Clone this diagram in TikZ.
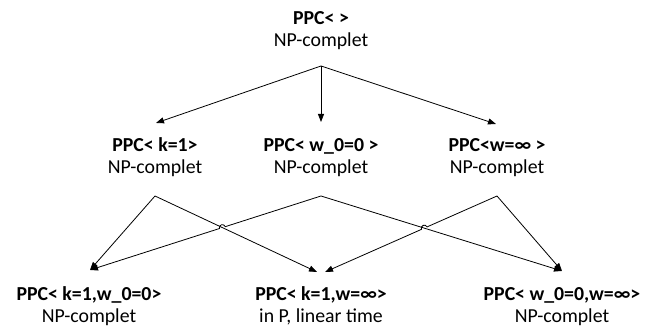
\documentclass[tikz,border=0pt]{standalone}
\usepackage{fontspec}
\setmainfont{Carlito}
\usetikzlibrary{arrows.meta,calc}
\tikzstyle{problem} = [align=center, inner sep=0pt, anchor=base, font=\fontsize{19.8}{22}\selectfont]
\tikzstyle{arrow} = [line width=0.8pt,-{Triangle[length=8pt,width=6pt]}]

\begin{document}
\begin{tikzpicture}[x=1pt,y=1pt]

	\useasboundingbox (0,0) rectangle (656,331);

	\node (ppc)[problem] at (321,284) {\textbf{PPC< >}\\NP-complet};

	\node (k)[problem] at (155,157) {\textbf{PPC< k=1>}\\NP-complet};
	\node (w0)[problem] at (321,157) {\textbf{PPC< w\_0=0 >}\\NP-complet};
	\node (winf)[problem] at (497,157) {\textbf{PPC<w=∞ >}\\NP-complet};

	\node (kw0)[problem] at (89,8) {\textbf{PPC< k=1,w\_0=0>}\\NP-complet};
	\node (kwinf)[problem] at (321,8) {\textbf{PPC< k=1,w=∞>}\\in P, linear time};
	\node (w0winf)[problem] at (562,8) {\textbf{PPC< w\_0=0,w=∞>}\\NP-complet};

	% points where the lines leave and enter
	\coordinate (ppc-o) at (321,265);
	\coordinate (k-i) at (156,208);
	\coordinate (w0-i) at (321,209);
	\coordinate (winf-i) at (496,207);
	\coordinate (k-o) at (155,135);
	\coordinate (w0-o) at (321,135);
	\coordinate (winf-o) at (497,135);
	\coordinate (kw0-i) at (90,61);
	\coordinate (kwinf-i1) at (317,59);
	\coordinate (kwinf-i2) at (325,59);
	\coordinate (w0winf-i) at (562,60);

	\draw [arrow] (ppc-o) -- (k-i);
	\draw [arrow] (ppc-o) -- (w0-i);
	\draw [arrow] (ppc-o) -- (winf-i);

	\draw [arrow] (k-o) -- (kw0-i);
	\draw [arrow] (k-o) -- (kwinf-i1);
	\draw [arrow] (w0-o) -- (w0winf-i);
	\draw [arrow] (winf-o) -- (w0winf-i);

	% crossings get a small hop
	\coordinate (hop1) at (intersection of k-o--kwinf-i1 and w0-o--kw0-i);
	\coordinate (hop2) at (intersection of w0-o--w0winf-i and winf-o--kwinf-i2);

	\draw [arrow] (w0-o) -- ($(hop1)!3pt!(w0-o)$) arc[start angle=17.8, end angle=197.8, radius=3pt] -- (kw0-i);
	\draw [arrow] (winf-o) -- ($(hop2)!3pt!(winf-o)$) arc[start angle=23.8, end angle=203.8, radius=3pt] -- (kwinf-i2);

\end{tikzpicture}
\end{document}
